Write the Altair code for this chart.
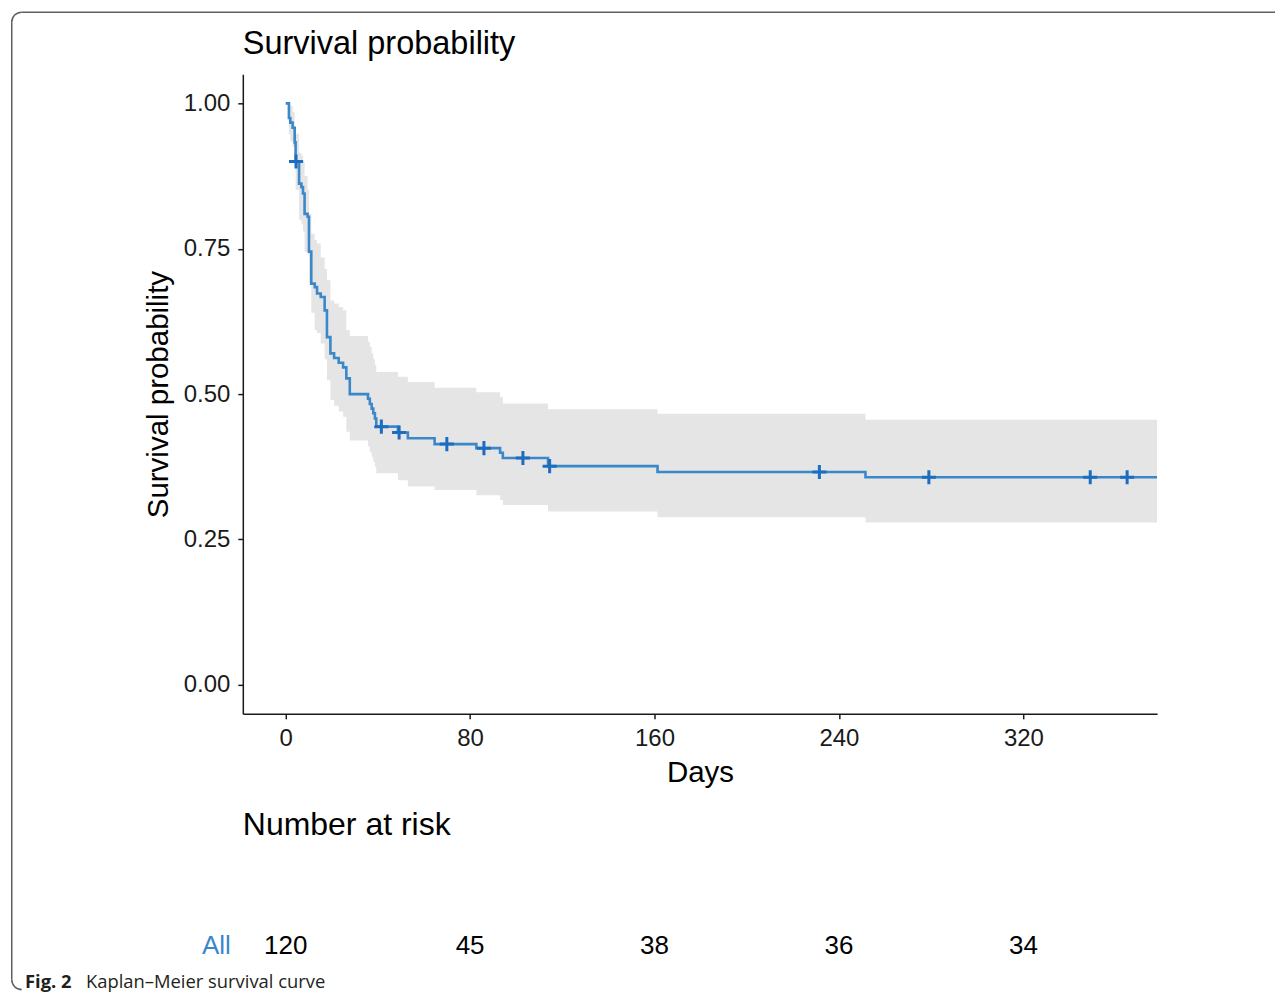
import altair as alt
import pandas as pd
import math

# ---- data ----
times = [0, 1.4, 2.0, 3.0, 3.9, 4.3, 5.8, 6.8, 7.5, 8.2, 9.5, 10.1, 11.1, 12.6, 13.6,
         15.2, 16.9, 17.9, 19.4, 21.0, 23.0, 24.9, 26.3, 27.8, 35.7, 36.5, 37.3, 38.0,
         38.7, 39.3, 48.7, 53.0, 64.6, 82.7, 93.0, 94.2, 113.8, 161.3, 251.5, 378]
surv = [1.000, 0.975, 0.967, 0.958, 0.933, 0.900, 0.862, 0.856, 0.845, 0.810, 0.805,
        0.745, 0.690, 0.684, 0.673, 0.667, 0.644, 0.598, 0.570, 0.562, 0.554, 0.546,
        0.527, 0.500, 0.492, 0.483, 0.475, 0.467, 0.458, 0.444, 0.434, 0.424, 0.414,
        0.407, 0.399, 0.390, 0.376, 0.366, 0.357, 0.357]
upper = [1.000, 1.000, 0.996, 0.985, 0.960, 0.948, 0.915, 0.910, 0.900, 0.875, 0.851,
         0.810, 0.776, 0.765, 0.759, 0.735, 0.715, 0.696, 0.661, 0.656, 0.650, 0.644,
         0.610, 0.600, 0.590, 0.581, 0.570, 0.560, 0.550, 0.538, 0.530, 0.521, 0.511,
         0.503, 0.495, 0.484, 0.474, 0.466, 0.456, 0.456]
lower = [1.000, 0.947, 0.935, 0.925, 0.890, 0.851, 0.800, 0.793, 0.780, 0.745, 0.740,
         0.690, 0.640, 0.610, 0.605, 0.587, 0.560, 0.524, 0.490, 0.480, 0.470, 0.461,
         0.435, 0.420, 0.410, 0.400, 0.392, 0.383, 0.375, 0.364, 0.352, 0.341, 0.335,
         0.326, 0.318, 0.309, 0.298, 0.288, 0.279, 0.279]

censor_times = [4.5, 41.5, 49.2, 69.9, 86.0, 102.9, 114.5, 231.5, 279.0, 349.0, 365.0]
censor_surv = [0.900, 0.444, 0.434, 0.414, 0.407, 0.390, 0.376, 0.366, 0.357, 0.357, 0.357]

risk_times = [0, 80, 160, 240, 320]
risk_counts = ["120", "45", "38", "36", "34"]

x_ticks = [0, 80, 160, 240, 320]
y_ticks = [0.0, 0.25, 0.5, 0.75, 1.0]

LINE = "#3A88CA"
CENS = "#1C6DBF"
FONT = "Liberation Sans"
BORDER = "#5F5F5F"

km = pd.DataFrame({"time": times, "surv": surv, "upper": upper, "lower": lower})
cens = pd.DataFrame({"time": censor_times, "surv": censor_surv})
risk = pd.DataFrame({"time": risk_times, "n": risk_counts})
one = pd.DataFrame({"k": [0]})

xscale = alt.Scale(domain=[-18.6, 378], nice=False, zero=False)
yscale = alt.Scale(domain=[-0.05, 1.05], nice=False, zero=False)

xenc = alt.X("time:Q", scale=xscale,
             axis=alt.Axis(values=x_ticks, title="Days", format="d"))
yenc_axis = alt.Axis(values=y_ticks, format=".2f", title="Survival probability")

band = alt.Chart(km).mark_area(interpolate="step-after", color="#E5E5E5", opacity=1, clip=True).encode(
    x=xenc,
    y=alt.Y("lower:Q", scale=yscale, axis=yenc_axis),
    y2="upper:Q",
)

line = alt.Chart(km).mark_line(interpolate="step-after", color=LINE, strokeWidth=2.6, clip=True).encode(
    x="time:Q",
    y="surv:Q",
)

plus = alt.Chart(cens).mark_point(
    shape="M-1,0L1,0M0,-1L0,1", filled=False, color=CENS, strokeWidth=3, size=200, opacity=1
).encode(x="time:Q", y="surv:Q")

title_txt = alt.Chart(one).mark_text(
    text="Survival probability", align="left", baseline="middle", font=FONT, fontSize=32.5, color="black"
).encode(x=alt.value(0), y=alt.value(-30))

risk_title = alt.Chart(one).mark_text(
    text="Number at risk", align="left", baseline="middle", font=FONT, fontSize=32, color="black"
).encode(x=alt.value(0), y=alt.value(751))

risk_nums = alt.Chart(risk).mark_text(
    align="center", baseline="middle", font=FONT, fontSize=26, color="black"
).encode(x="time:Q", y=alt.value(872), text="n:N")

risk_lab = alt.Chart(one).mark_text(
    text="All", align="right", baseline="middle", font=FONT, fontSize=26, color=LINE
).encode(x=alt.value(-12), y=alt.value(872))

cap_bold = alt.Chart(one).mark_text(
    text="Fig. 2", align="left", baseline="middle", font="Open Sans", fontSize=18.4,
    fontWeight="bold", color="#231F20"
).encode(x=alt.value(-218), y=alt.value(908))

cap_txt = alt.Chart(one).mark_text(
    text="Kaplan\u2013Meier survival curve", align="left", baseline="middle", font="Open Sans",
    fontSize=18.4, color="#231F20"
).encode(x=alt.value(-157), y=alt.value(908))

# decorative figure frame (top edge, left edge, rounded corners)
frame_top = alt.Chart(one).mark_rule(stroke=BORDER, strokeWidth=1.5).encode(
    x=alt.value(-221.25), x2=alt.value(1033), y=alt.value(-62.25))
frame_left = alt.Chart(one).mark_rule(stroke=BORDER, strokeWidth=1.5).encode(
    x=alt.value(-231.25), y=alt.value(-52.25), y2=alt.value(906))
corner_tl = alt.Chart(one).mark_arc(
    radius=10, radius2=10, theta=3 * math.pi / 2, theta2=2 * math.pi,
    fillOpacity=0, stroke=BORDER, strokeWidth=1.5
).encode(x=alt.value(-221.25), y=alt.value(-52.25))
corner_bl = alt.Chart(one).mark_arc(
    radius=10, radius2=10, theta=math.pi, theta2=3 * math.pi / 2,
    fillOpacity=0, stroke=BORDER, strokeWidth=1.5
).encode(x=alt.value(-221.25), y=alt.value(906))

chart = alt.layer(
    frame_top, frame_left, corner_tl, corner_bl,
    band, line, plus, title_txt, risk_title, risk_nums, risk_lab, cap_bold, cap_txt
).properties(
    width=915, height=640,
    padding=0,
).configure_view(stroke=None).configure_axis(
    grid=False,
    domainColor="#1A1A1A", domainWidth=1.5,
    tickColor="#1A1A1A", tickWidth=1.5, tickSize=5,
    labelFont=FONT, labelFontSize=24, labelColor="#1A1A1A",
    titleFont=FONT, titleFontSize=29.5, titleColor="black", titleFontWeight="normal",
).configure_axisX(labelPadding=8, titlePadding=8).configure_axisY(labelPadding=8, titlePadding=10)

chart.save("out.html", embed_options={"renderer": "svg", "actions": False})
